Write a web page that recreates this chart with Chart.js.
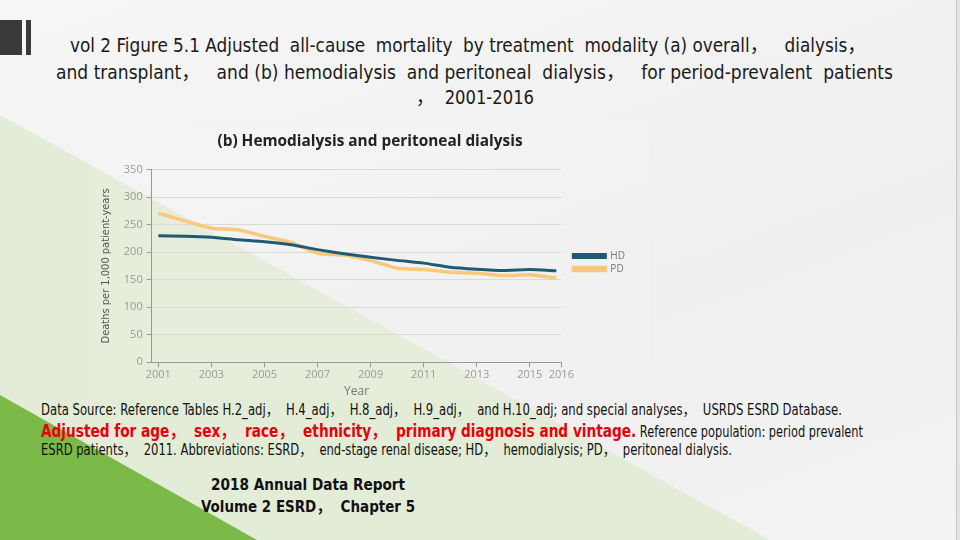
<!DOCTYPE html>
<html>
<head>
<meta charset="utf-8">
<script src="https://cdn.jsdelivr.net/npm/chart.js@4.4.0/dist/chart.umd.min.js"></script>
<style>
  html, body { margin: 0; padding: 0; }
  body {
    width: 960px; height: 540px; position: relative; overflow: hidden;
    background: linear-gradient(160deg, #f6f6f6 0%, #efefef 60%, #f3f3f3 100%);
    font-family: "Liberation Sans Narrow", "DejaVu Sans Condensed", "Noto Sans CJK SC", sans-serif;
    color: #111;
  }
  .fundo { position: absolute; left: 0; top: 0; width: 960px; height: 540px; }
  #faixa { background: #e3ecd6; clip-path: polygon(0 115px, 770px 540px, 0 540px); }
  #triangulo { background: #7bb948; clip-path: polygon(0 395px, 257px 540px, 0 540px); }
  #borda { position: absolute; left: 956px; top: 0; width: 4px; height: 540px; background: #e4e4e4; border-left: 1px solid #c4c4c4; }
  .barra { position: absolute; top: 20px; height: 35px; background: #3a3a3a; }
  .txt { position: absolute; white-space: pre; transform-origin: 0 50%; }
  .titulo { font-size: 19px; line-height: 22px; color: #1a1a1a; }
  .nota { font-size: 15px; line-height: 18px; color: #111; }
  .vermelho { color: #e8000b; font-weight: bold; font-size: 18px; }
  .relatorio { font-size: 16px; line-height: 20px; font-weight: bold; color: #111; }
  #grafico { position: absolute; left: 90px; top: 125px; background: rgba(255,255,255,0.12); }
</style>
</head>
<body>
<div class="fundo" id="faixa"></div>
<div class="fundo" id="triangulo"></div>
<div id="borda"></div>
<div class="barra" style="left:0;width:22px"></div>
<div class="barra" style="left:26px;width:5px"></div>

<div class="txt titulo" data-x="70" data-y="45" data-w="796">vol 2 Figure 5.1 Adjusted  all-cause  mortality  by treatment  modality (a) overall，   dialysis，</div>
<div class="txt titulo" data-x="56" data-y="72" data-w="837">and transplant，   and (b) hemodialysis  and peritoneal  dialysis，   for period-prevalent  patients</div>
<div class="txt titulo" data-x="416" data-y="97" data-w="118">，  2001-2016</div>

<canvas id="grafico" width="560" height="275"></canvas>

<div class="txt nota" data-x="41" data-y="410" data-w="801">Data Source: Reference Tables H.2_adj，  H.4_adj，  H.8_adj，  H.9_adj，  and H.10_adj; and special analyses，  USRDS ESRD Database.</div>
<div class="txt nota" data-x="41" data-y="431" data-w="822"><span class="vermelho">Adjusted for age，  sex，  race，  ethnicity，  primary diagnosis and vintage.</span> Reference population: period prevalent</div>
<div class="txt nota" data-x="41" data-y="450" data-w="691">ESRD patients，  2011. Abbreviations: ESRD，  end-stage renal disease; HD，  hemodialysis; PD，  peritoneal dialysis.</div>

<div class="txt relatorio" data-cx="308" data-y="485" data-w="194">2018 Annual Data Report</div>
<div class="txt relatorio" data-cx="308" data-y="507" data-w="214">Volume 2 ESRD，  Chapter 5</div>

<script>
// Dados (mortes por 1.000 pacientes-ano)
const anos = [2001, 2002, 2003, 2004, 2005, 2006, 2007, 2008, 2009, 2010, 2011, 2012, 2013, 2014, 2015, 2016];
const hd = [229.7, 229, 227, 222.5, 219, 213.5, 204.5, 197, 190.6, 185, 180, 172.6, 169, 166.6, 168.4, 166];
const pd = [270.6, 256.8, 243.5, 240.5, 228.5, 217.7, 197.8, 194.8, 184.6, 170.8, 168.4, 163.6, 161.8, 157.6, 158.8, 152.7];
const ticksAno = [2001, 2003, 2005, 2007, 2009, 2011, 2013, 2015, 2016];

const fonteGrafico = 'Open Sans';
const fonteEstreita = "'Liberation Sans Narrow', 'DejaVu Sans Condensed', sans-serif";

// Ajusta a largura de cada linha de texto para bater com o slide original
function ajustarTextos() {
    document.querySelectorAll('.txt').forEach(el => {
        const alvo = +el.dataset.w;
        const larg = el.getBoundingClientRect().width;
        el.style.transform = 'scaleX(' + (alvo / larg) + ')';
        const x = el.dataset.cx ? (+el.dataset.cx - alvo / 2) : +el.dataset.x;
        el.style.left = x + 'px';
        el.style.top = (+el.dataset.y - el.offsetHeight / 2) + 'px';
    });
}

// Empurra a legenda e o título um pouco para a direita
// (o padding da legenda também controla o espaçamento vertical)
const empurraLegenda = {
    id: 'empurraLegenda',
    afterLayout(chart) {
        chart.legend.left += 9;
        chart.legend.right += 9;
        chart.titleBlock.left += 12;
        chart.titleBlock.right += 12;
    }
};

function desenharGrafico() {
    const ctx = document.getElementById('grafico').getContext('2d');
    new Chart(ctx, {
        type: 'line',
        data: {
            datasets: [
                {
                    label: 'HD',
                    data: anos.map((a, i) => ({ x: a, y: hd[i] })),
                    borderColor: '#1f5b72',
                    backgroundColor: '#1f5b72',
                    borderWidth: 3,
                    pointRadius: 0,
                    tension: 0.2
                },
                {
                    label: 'PD',
                    data: anos.map((a, i) => ({ x: a, y: pd[i] })),
                    borderColor: '#f9c97b',
                    backgroundColor: '#f9c97b',
                    borderWidth: 3.5,
                    pointRadius: 0,
                    tension: 0.2
                }
            ]
        },
        options: {
            responsive: false,
            animation: false,
            layout: { padding: { right: 24 } },
            plugins: {
                title: {
                    display: true,
                    text: '(b) Hemodialysis and peritoneal dialysis',
                    color: '#222',
                    font: { family: fonteGrafico, size: 15.4, weight: 'bold' },
                    padding: { top: 7, bottom: 19 }
                },
                legend: {
                    position: 'right',
                    labels: {
                        boxWidth: 32,
                        boxHeight: 3,
                        padding: 3,
                        color: '#777',
                        font: { family: fonteGrafico, size: 10 }
                    }
                },
                tooltip: { enabled: false }
            },
            scales: {
                x: {
                    type: 'linear',
                    min: 2000.75,
                    max: 2016.19,
                    afterBuildTicks: s => {
                        // o último rótulo (2016) fica na ponta do eixo, como no original
                        s.ticks = ticksAno.map(v => ({ value: v === 2016 ? s.max : v }));
                    },
                    afterFit: s => { s.height = 37.7; },
                    grid: { drawOnChartArea: false, tickLength: 5, tickColor: '#999' },
                    border: { color: '#999' },
                    ticks: {
                        padding: 1,
                        autoSkip: false,
                        maxRotation: 0,
                        color: '#999',
                        font: { family: fonteGrafico, size: 11 },
                        callback: v => Math.round(v)
                    },
                    title: {
                        display: true,
                        text: 'Year',
                        color: '#777',
                        font: { family: fonteGrafico, size: 12 },
                        padding: { top: 0, bottom: 1.1 }
                    }
                },
                y: {
                    min: 0,
                    max: 350,
                    afterFit: s => { s.width = 61.7; },
                    grid: { color: '#dadada', tickLength: 5, tickColor: '#999' },
                    border: { color: '#999' },
                    ticks: {
                        stepSize: 50,
                        padding: 4,
                        color: '#999',
                        font: { family: fonteGrafico, size: 11 }
                    },
                    title: {
                        display: true,
                        text: 'Deaths per 1,000 patient-years',
                        color: '#555',
                        font: { family: fonteEstreita, size: 11 },
                        padding: { top: 9.5, bottom: 0 }
                    }
                }
            }
        },
        plugins: [empurraLegenda]
    });
}

document.addEventListener('DOMContentLoaded', function () {
    desenharGrafico();
    document.fonts.ready.then(ajustarTextos);
});
</script>
</body>
</html>
